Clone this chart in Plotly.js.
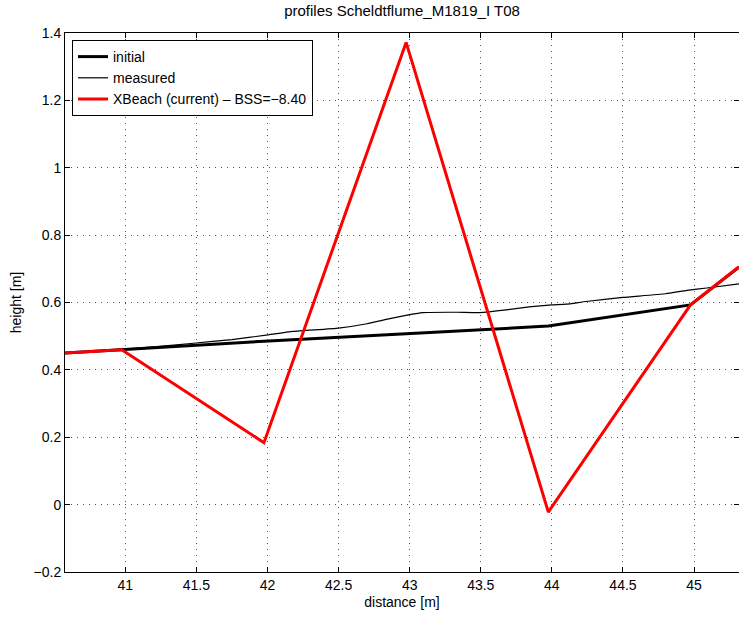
<!DOCTYPE html>
<html>
<head>
<meta charset="utf-8">
<script src="https://cdn.plot.ly/plotly-3.0.1.min.js"></script>
<style>
html,body{margin:0;padding:0;background:#fff;}
#chart{width:739px;height:617px;}
</style>
</head>
<body>
<div id="chart"></div>
<script>
// ---- data ----
var initialX = [40.576, 40.975, 41.975, 42.975, 43.975, 44.975, 45.316];
var initialY = [0.450, 0.460, 0.485, 0.507, 0.530, 0.593, 0.705];

var measuredX = [40.576, 40.975, 41.2, 41.48, 41.75, 41.99, 42.18, 42.5, 42.7, 42.86, 43.0, 43.09, 43.33, 43.49, 43.68, 43.84, 44.0, 44.1, 44.24, 44.5, 44.8, 44.95, 45.09, 45.316];
var measuredY = [0.450, 0.4615, 0.468, 0.479, 0.490, 0.503, 0.514, 0.524, 0.537, 0.552, 0.564, 0.570, 0.571, 0.570, 0.578, 0.587, 0.593, 0.595, 0.603, 0.615, 0.626, 0.636, 0.643, 0.655];

var xbeachX = [40.576, 40.975, 41.975, 42.975, 43.975, 44.975, 45.316];
var xbeachY = [0.450, 0.460, 0.184, 1.372, -0.022, 0.593, 0.706];

var seriesNames = ["initial", "measured", "XBeach (current) \u2013 BSS=\u22128.40"];
var xTickVals = [41, 41.5, 42, 42.5, 43, 43.5, 44, 44.5, 45];
var yTickVals = [-0.2, 0, 0.2, 0.4, 0.6, 0.8, 1, 1.2, 1.4];

var FONT = "Liberation Sans, Arial, Helvetica, sans-serif";

var traces = [
  {x: initialX, y: initialY, name: seriesNames[0], type: "scatter", mode: "lines",
   line: {color: "#000000", width: 3}},
  {x: measuredX, y: measuredY, name: seriesNames[1], type: "scatter", mode: "lines",
   line: {color: "#000000", width: 1.2, shape: "spline", smoothing: 0.4}},
  {x: xbeachX, y: xbeachY, name: seriesNames[2], type: "scatter", mode: "lines",
   line: {color: "#ff0000", width: 3}}
];

var layout = {
  width: 739, height: 617,
  margin: {l: 65, r: 0, t: 33, b: 45, pad: 0},
  paper_bgcolor: "#ffffff", plot_bgcolor: "#ffffff",
  font: {family: FONT, size: 14, color: "#000000"},
  title: {text: "profiles Scheldtflume_M1819_I T08", font: {family: FONT, size: 15, color: "#000"},
          x: 0.5, xref: "paper", xanchor: "center", y: 1, yref: "container", yanchor: "top", pad: {t: 5}},
  showlegend: true,
  legend: {x: 0.0104, y: 0.987, xanchor: "left", yanchor: "top",
           bordercolor: "#000000", borderwidth: 1, bgcolor: "#ffffff",
           entrywidth: 272, entrywidthmode: "pixels",
           font: {family: FONT, size: 14, color: "#000"}, tracegroupgap: 0},
  xaxis: {
    range: [40.576, 45.316], tickvals: xTickVals, ticktext: xTickVals.map(String),
    ticks: "inside", ticklen: 5, tickcolor: "#000", tickwidth: 1,
    showline: true, linecolor: "#000", linewidth: 1, mirror: "ticks",
    showgrid: true, gridcolor: "#555555", gridwidth: 1, griddash: "1px,5px",
    zeroline: false, tickfont: {family: FONT, size: 14},
    title: {text: "distance [m]", font: {family: FONT, size: 14}, standoff: 5}
  },
  yaxis: {
    range: [-0.2, 1.4], tickvals: yTickVals, ticktext: yTickVals.map(function(v){return v < 0 ? "\u2212" + Math.abs(v) : String(v);}),
    ticks: "inside", ticklen: 5, tickcolor: "#000", tickwidth: 1,
    showline: true, linecolor: "#000", linewidth: 1, mirror: "ticks",
    showgrid: true, gridcolor: "#555555", gridwidth: 1, griddash: "1px,5px",
    zeroline: false, tickfont: {family: FONT, size: 14},
    title: {text: "height [m]", font: {family: FONT, size: 14}, standoff: 8}
  }
};

Plotly.newPlot("chart", traces, layout, {staticPlot: true, displayModeBar: false});
</script>
</body>
</html>
